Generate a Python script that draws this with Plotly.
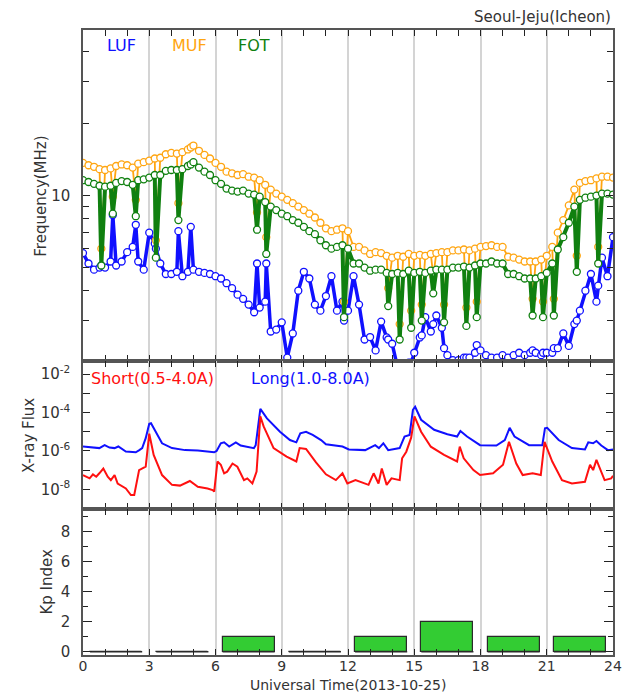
import plotly.graph_objects as go
from plotly.subplots import make_subplots

# ---------------- Frequency panel data (UT hours, MHz) ----------------
hours = [0.00, 0.25, 0.50, 0.75, 0.83, 1.00, 1.25, 1.35, 1.50, 1.75, 2.00, 2.25, 2.39, 2.50, 2.75,
         3.00, 3.25, 3.30, 3.50, 3.75, 4.00, 4.25, 4.32, 4.50, 4.75, 4.88, 5.00, 5.25, 5.50, 5.75,
         6.00, 6.25, 6.50, 6.75, 7.00, 7.25, 7.50, 7.75, 7.88, 8.00, 8.25, 8.30, 8.50, 8.75, 9.00,
         9.25, 9.50, 9.75, 10.00, 10.25, 10.50, 10.75, 11.00, 11.25, 11.50, 11.75, 11.82, 12.00, 12.25,
         12.50, 12.75, 13.00, 13.25, 13.50, 13.75, 13.82, 14.00, 14.25, 14.34, 14.50, 14.75, 14.86,
         15.00, 15.25, 15.34, 15.50, 15.75, 15.86, 16.00, 16.25, 16.35, 16.50, 16.75, 17.00, 17.25,
         17.36, 17.50, 17.75, 17.83, 18.00, 18.25, 18.50, 18.75, 19.00, 19.25, 19.50, 19.75, 20.00,
         20.25, 20.36, 20.50, 20.75, 20.83, 21.00, 21.25, 21.32, 21.50, 21.75, 22.00, 22.25, 22.36,
         22.50, 22.75, 23.00, 23.25, 23.33, 23.50, 23.75, 24.00]

luf = [5.75, 5.2, 4.9, 5.0, 5.1, 5.0, 5.3, 8.3, 5.1, 5.3, 5.8, 6.1, 7.55, 5.3, 4.9,
       7.0, 6.3, 6.0, 5.2, 4.7, 4.7, 4.8, 7.1, 4.6, 4.8, 7.4, 4.9, 4.8, 4.75, 4.7,
       4.6, 4.5, 4.3, 4.1, 3.85, 3.7, 3.5, 3.25, 5.2, 3.4, 3.6, 5.2, 2.7, 2.75, 2.95,
       2.1, 2.65, 4.0, 4.8, 4.5, 3.5, 3.3, 3.8, 4.6, 3.3, 3.6, 3.0, 3.3, 4.6,
       3.5, 2.5, 2.56, 2.25, 2.97, 2.55, 2.5, 2.4, 1.9, 1.8, 1.9, 2.0, 2.0,
       2.2, 2.55, 2.6, 3.1, 2.7, 2.9, 3.15, 2.8, 2.3, 2.15, 2.05, 2.05, 2.1,
       2.1, 2.1, 2.2, 2.37, 2.25, 2.15, 2.1, 2.1, 2.15, 2.1, 2.15, 2.2, 2.15,
       2.2, 2.25, 2.2, 2.15, 2.2, 2.2, 2.2, 2.3, 2.3, 2.65, 2.35, 2.9, 3.0,
       3.3, 4.0, 4.7, 3.6, 4.2, 5.5, 4.6, 6.7]

muf = [13.7, 13.4, 13.2, 12.9, 6.0, 12.8, 13.0, 9.9, 13.3, 13.5, 13.4, 13.1, 9.6, 13.6, 13.8,
       14.0, 14.3, 6.5, 14.4, 14.9, 15.1, 15.0, 9.3, 15.2, 15.6, 15.9, 16.2, 15.4, 14.8, 14.3,
       13.7, 13.2, 12.6, 12.4, 12.2, 12.3, 12.0, 11.9, 8.5, 11.6, 11.1, 6.7, 10.6, 10.2, 9.9,
       9.6, 9.3, 9.0, 8.7, 8.4, 8.1, 7.7, 7.3, 7.1, 7.2, 7.3, 3.6, 7.1, 6.1,
       6.1, 5.9, 5.7, 5.8, 5.75, 5.6, 4.1, 5.5, 5.6, 2.9, 5.55, 5.7, 3.3,
       5.6, 5.65, 3.5, 5.6, 5.7, 4.6, 5.75, 5.8, 3.5, 5.8, 5.9, 5.9, 5.95,
       3.4, 5.9, 6.0, 3.6, 6.1, 6.15, 6.2, 6.1, 6.1, 5.55, 5.5, 5.4, 5.3,
       5.3, 3.7, 5.3, 5.4, 3.6, 5.6, 6.1, 3.7, 7.0, 7.9, 9.1, 10.6, 5.6,
       11.3, 11.5, 11.6, 11.8, 6.1, 12.0, 12.0, 11.9]

fot = [11.6, 11.4, 11.2, 11.0, 5.1, 10.9, 11.0, 8.4, 11.3, 11.5, 11.4, 11.1, 8.2, 11.6, 11.7,
       11.9, 12.2, 5.5, 12.2, 12.7, 12.8, 12.8, 7.9, 12.9, 13.3, 13.5, 13.8, 13.1, 12.6, 12.2,
       11.6, 11.2, 10.7, 10.5, 10.4, 10.5, 10.2, 10.1, 7.2, 9.9, 9.4, 5.7, 9.0, 8.7, 8.4,
       8.2, 7.9, 7.7, 7.4, 7.1, 6.9, 6.5, 6.2, 6.0, 6.1, 6.2, 3.1, 6.0, 5.2,
       5.2, 5.0, 4.85, 4.9, 4.9, 4.75, 3.45, 4.7, 4.75, 2.5, 4.7, 4.85, 2.8,
       4.75, 4.8, 3.0, 4.75, 4.85, 3.9, 4.9, 4.9, 2.95, 4.9, 5.0, 5.0, 5.05,
       2.85, 5.0, 5.1, 3.1, 5.2, 5.2, 5.3, 5.2, 5.2, 4.7, 4.7, 4.6, 4.5,
       4.5, 3.15, 4.5, 4.6, 3.1, 4.75, 5.2, 3.15, 5.95, 6.7, 7.7, 9.0, 4.8,
       9.6, 9.8, 9.9, 10.0, 5.2, 10.2, 10.2, 10.1]

# ---------------- X-ray flux data (W/m^2) ----------------
long_hours = [0.0, 0.4, 0.74, 0.98, 1.2, 1.43, 1.6, 1.94, 2.2, 2.39, 2.55, 2.68, 2.84, 3.0, 3.08,
              3.28, 3.58, 4.03, 4.62, 5.2, 5.94, 6.05, 6.24, 6.39, 6.62, 6.92, 7.14, 7.74, 7.82,
              7.88, 8.03, 8.33, 8.92, 9.37, 9.66, 9.84, 10.1, 10.4, 10.78, 11.0, 11.75, 12.04,
              12.78, 13.23, 13.4, 13.6, 13.82, 14.34, 14.56, 14.79, 14.94, 15.04, 15.31, 15.9,
              16.5, 16.94, 17.09, 17.39, 17.98, 18.72, 19.1, 19.32, 19.54, 20.2, 20.8, 20.92,
              21.02, 21.54, 22.14, 22.73, 22.88, 23.1, 23.25, 23.47, 23.77, 24.0]
long_flux = [1.7e-6, 1.5e-6, 1.4e-6, 2.0e-6, 1.5e-6, 1.4e-6, 1.7e-6, 9.3e-7, 9.0e-7, 8.5e-7, 1.1e-6,
             1.4e-6, 4.6e-6, 2.6e-5, 2.8e-5, 1.0e-5, 2.5e-6, 1.4e-6, 1.1e-6, 1.05e-6, 8.5e-7, 1.0e-6,
             2.5e-6, 2.8e-6, 1.7e-6, 2.8e-6, 1.9e-6, 1.4e-6, 2.0e-6, 6.8e-6, 1.55e-4, 5.0e-5, 1.0e-5,
             3.7e-6, 2.8e-6, 8.3e-6, 1.0e-5, 6.8e-6, 3.7e-6, 2.2e-6, 1.7e-6, 1.2e-6, 1.1e-6, 2.0e-6,
             1.4e-6, 2.5e-6, 1.1e-6, 1.4e-6, 5.6e-6, 6.8e-6, 1.4e-4, 2.0e-4, 4.2e-5, 1.26e-5, 7.4e-6,
             5.6e-6, 1.1e-5, 5.6e-6, 2.0e-6, 1.9e-6, 3.7e-6, 1.6e-5, 5.6e-6, 2.0e-6, 2.0e-6, 1.5e-5,
             1.6e-5, 3.7e-6, 1.4e-6, 1.2e-6, 2.8e-6, 2.5e-6, 3.3e-6, 1.9e-6, 1.1e-6, 1.2e-6]

short_hours = [0.0, 0.3, 0.45, 0.6, 0.74, 0.92, 1.12, 1.26, 1.43, 1.57, 1.94, 2.17, 2.32, 2.54, 2.84,
               3.0, 3.2, 3.58, 4.03, 4.39, 4.84, 5.2, 5.64, 5.87, 5.94, 6.09, 6.24, 6.39, 6.53, 6.77,
               6.99, 7.29, 7.44, 7.67, 7.86, 8.03, 8.18, 8.63, 9.22, 9.66, 9.81, 10.1, 10.55, 11.0,
               11.45, 11.75, 11.97, 12.34, 12.93, 13.16, 13.38, 13.53, 13.75, 13.97, 14.34, 14.45,
               14.64, 14.86, 15.01, 15.31, 15.75, 16.35, 16.94, 17.06, 17.24, 17.68, 17.98, 18.57,
               19.02, 19.29, 19.62, 19.91, 20.36, 20.73, 20.9, 21.25, 21.69, 22.14, 22.73, 22.96,
               23.1, 23.25, 23.62, 23.92, 24.0]
short_flux = [5.5e-8, 3.7e-8, 6.0e-8, 4.5e-8, 6.8e-8, 1.2e-7, 4.5e-8, 3.0e-8, 5.5e-8, 2.0e-8, 1.1e-8,
              5.0e-9, 5.0e-9, 1.0e-7, 1.5e-7, 7.9e-6, 6.2e-7, 5.5e-8, 1.7e-8, 1.55e-8, 2.7e-8, 1.35e-8,
              1.1e-8, 9.0e-9, 7.6e-9, 2.8e-7, 1.9e-7, 6.8e-8, 8.3e-8, 2.2e-7, 1.5e-7, 3.0e-8, 3.7e-8,
              2.0e-8, 8.3e-8, 6.3e-5, 1.9e-5, 1.4e-6, 5.0e-7, 2.8e-7, 1.4e-6, 1.26e-6, 2.5e-7, 6.0e-8,
              3.0e-8, 6.8e-8, 2.0e-8, 3.0e-8, 1.7e-8, 6.8e-8, 2.0e-8, 1.2e-7, 1.7e-8, 3.7e-8, 3.0e-8,
              4.1e-7, 9.1e-7, 4.9e-6, 6.3e-5, 1.0e-5, 1.66e-6, 6.2e-7, 2.8e-7, 1.66e-6, 4.1e-7, 1.0e-7,
              5.5e-8, 6.8e-8, 1.9e-7, 3.0e-6, 2.2e-7, 5.5e-8, 6.8e-8, 5.5e-8, 3.0e-6, 2.8e-7, 3.0e-8,
              2.0e-8, 2.45e-8, 1.9e-7, 1.0e-7, 3.4e-7, 3.0e-8, 3.7e-8, 5.0e-8]

# ---------------- Kp index ----------------
kp_hours = [1.5, 4.5, 7.5, 10.5, 13.5, 16.5, 19.5, 22.5]
kp = [0, 0, 1, 0, 1, 2, 1, 1]
kp_bar_width = 2.36

# ---------------- Ticks / labels ----------------
hour_ticks = [0, 3, 6, 9, 12, 15, 18, 21, 24]
freq_ticks = [10]
freq_ticktext = ["10"]
freq_minor_ticks = [3, 4, 5, 6, 7, 8, 9, 20, 30, 40]
xray_ticks = [1e-8, 1e-6, 1e-4, 1e-2]
xray_ticktext = ["10<sup>-8</sup>", "10<sup>-6</sup>", "10<sup>-4</sup>", "10<sup>-2</sup>"]
xray_minor_ticks = [1e-7, 1e-5, 1e-3]

C_LUF = "#1010ff"
C_MUF = "#ffa510"
C_FOT = "#108010"
C_SHORT = "#ff1010"
C_LONG = "#1010ff"
TXT = "#333333"
FONT = "DejaVu Sans"

fig = make_subplots(rows=3, cols=1, shared_xaxes=True, vertical_spacing=0,
                    row_heights=[331, 148, 146])

def marker(c):
    return dict(symbol="circle", size=7, color="white", line=dict(color=c, width=1.3))

fig.add_trace(go.Scatter(x=hours, y=luf, mode="lines+markers", line=dict(color=C_LUF, width=3.5),
                         marker=marker(C_LUF), showlegend=False), row=1, col=1)
fig.add_trace(go.Scatter(x=hours, y=muf, mode="lines+markers", line=dict(color=C_MUF, width=1.8),
                         marker=marker(C_MUF), showlegend=False), row=1, col=1)
fig.add_trace(go.Scatter(x=hours, y=fot, mode="lines+markers", line=dict(color=C_FOT, width=4),
                         marker=marker(C_FOT), showlegend=False), row=1, col=1)

fig.add_trace(go.Scatter(x=long_hours, y=long_flux, mode="lines", line=dict(color=C_LONG, width=2),
                         showlegend=False), row=2, col=1)
fig.add_trace(go.Scatter(x=short_hours, y=short_flux, mode="lines", line=dict(color=C_SHORT, width=2),
                         showlegend=False), row=2, col=1)

fig.add_trace(go.Bar(x=kp_hours, y=kp, width=kp_bar_width, marker=dict(color="#33cc33",
                     line=dict(color="#2a2a2a", width=1.2)), showlegend=False), row=3, col=1)
# baseline segments so zero-valued Kp bars remain visible
seg_x, seg_y = [], []
for h in kp_hours:
    seg_x += [h - kp_bar_width / 2, h + kp_bar_width / 2, None]
    seg_y += [0, 0, None]
fig.add_trace(go.Scatter(x=seg_x, y=seg_y, mode="lines", line=dict(color="#2a2a2a", width=1.5),
                         showlegend=False, hoverinfo="skip"), row=3, col=1)

xaxis_style = dict(range=[0, 24], tickvals=hour_ticks, showgrid=True, gridcolor="#d4d4d4", gridwidth=1.5,
                   showline=True, linecolor="#555555", linewidth=1.5, mirror="ticks",
                   ticks="inside", ticklen=0, tickcolor="#222222", zeroline=False,
                   minor=dict(dtick=1, tick0=0, ticks="inside", ticklen=6, tickcolor="#222222",
                              showgrid=False))
for r in (1, 2, 3):
    fig.update_xaxes(row=r, col=1, **xaxis_style)
fig.update_xaxes(row=3, col=1, tickfont=dict(size=14, color=TXT, family=FONT), ticklabelstandoff=-3)

yaxis_common = dict(showline=True, linecolor="#555555", linewidth=1.5, mirror="ticks",
                    ticks="inside", tickcolor="#222222", zeroline=False, showgrid=False,
                    tickfont=dict(size=15, color=TXT, family=FONT), ticklabelstandoff=8)

fig.update_yaxes(row=1, col=1, type="log", range=[0.308, 1.693], tickvals=freq_ticks,
                 ticktext=freq_ticktext, ticklen=7,
                 minor=dict(tickvals=freq_minor_ticks, ticks="inside", ticklen=6, tickcolor="#222222",
                            showgrid=False),
                 **yaxis_common)
fig.update_yaxes(row=2, col=1, type="log", range=[-9.03, -1.31], tickvals=xray_ticks,
                 ticktext=xray_ticktext, ticklen=7,
                 minor=dict(tickvals=xray_minor_ticks, ticks="inside", ticklen=7, tickcolor="#222222",
                            showgrid=False),
                 **yaxis_common)
fig.update_yaxes(row=3, col=1, range=[-0.22, 9.5], dtick=2, tick0=0, ticklen=9,
                 minor=dict(dtick=1, ticks="inside", ticklen=5, tickcolor="#222222"),
                 **yaxis_common)

def px_to_paper_x(px):
    return (px - 83) / 539.0

def px_to_paper_y(py):
    return (655 - py) / 625.0

def label(text, x, y, color, size, xref="paper", angle=0, xanchor="center"):
    return dict(text=text, xref=xref, yref="paper", x=x, y=y, xanchor=xanchor, yanchor="middle",
                textangle=angle, showarrow=False, font=dict(size=size, color=color, family=FONT))

annotations = [
    label("Seoul-Jeju(Icheon)", 1.0, px_to_paper_y(17), TXT, 15, xanchor="right"),
    label("LUF", 1.74, px_to_paper_y(46), C_LUF, 16, xref="x"),
    label("MUF", 4.8, px_to_paper_y(46), C_MUF, 16, xref="x"),
    label("FOT", 7.75, px_to_paper_y(46), C_FOT, 16, xref="x"),
    label("Short(0.5-4.0A)", 3.16, px_to_paper_y(378), C_SHORT, 16, xref="x"),
    label("Long(1.0-8.0A)", 10.29, px_to_paper_y(378), C_LONG, 16, xref="x"),
    label("Frequency(MHz)", px_to_paper_x(40), px_to_paper_y(196), TXT, 15, angle=-90),
    label("X-ray Flux", px_to_paper_x(28), px_to_paper_y(435), TXT, 15, angle=-90),
    label("Kp Index", px_to_paper_x(46), px_to_paper_y(582), TXT, 15, angle=-90),
    label("Universal Time(2013-10-25)", px_to_paper_x(352), px_to_paper_y(685), TXT, 14),
]

fig.update_layout(width=633, height=693, margin=dict(l=83, r=11, t=30, b=38),
                  paper_bgcolor="white", plot_bgcolor="white",
                  font=dict(family=FONT, size=15, color=TXT),
                  annotations=annotations, bargap=0, showlegend=False)

fig.write_html("out.html", include_plotlyjs=True, config={"displayModeBar": False},
               post_script="document.body.style.margin='0';")
